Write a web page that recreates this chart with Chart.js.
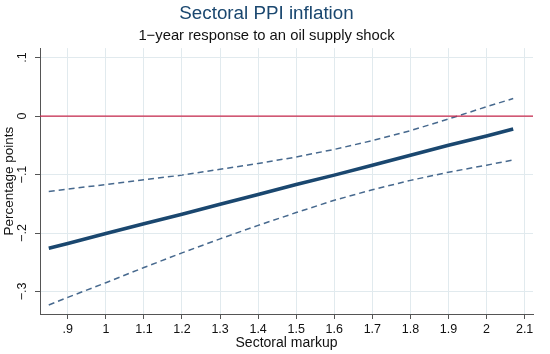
<!DOCTYPE html>
<html>
<head>
<meta charset="utf-8">
<script src="https://cdn.jsdelivr.net/npm/chart.js@4"></script>
<style>
  html, body { margin: 0; padding: 0; background: #fff; }
  #wrap { position: relative; width: 550px; height: 354px; }
</style>
</head>
<body>
<div id="wrap"><canvas id="chart"></canvas></div>
<script>
// values
const markup = [0.85, 0.9, 1.0, 1.1, 1.2, 1.3, 1.4, 1.5, 1.6, 1.7, 1.8, 1.9, 2.0, 2.07];
const fitted = [-0.226, -0.218, -0.201, -0.184, -0.168, -0.151, -0.134, -0.117, -0.101, -0.084, -0.067, -0.050, -0.034, -0.022];
const upperCI = [-0.129, -0.125, -0.117, -0.109, -0.101, -0.091, -0.081, -0.070, -0.057, -0.042, -0.025, -0.005, 0.016, 0.030];
const lowerCI = [-0.323, -0.310, -0.285, -0.259, -0.234, -0.210, -0.187, -0.165, -0.144, -0.126, -0.110, -0.096, -0.084, -0.075];

const xTicks = [0.9, 1.0, 1.1, 1.2, 1.3, 1.4, 1.5, 1.6, 1.7, 1.8, 1.9, 2.0, 2.1];
const yTicks = [-0.3, -0.2, -0.1, 0, 0.1];
const xMin = 0.827, xMax = 2.122;
const yMin = -0.3385, yMax = 0.1162;

const FONT = "'Liberation Sans', Arial, Helvetica, sans-serif";

// Stata style labels: no leading zero, real minus sign
function stataLabel(v) {
  let s = String(Math.round(v * 10) / 10);
  s = s.replace(/^(-?)0\./, "$1.");
  return s.replace("-", "\u2212");
}

const pts = (ys) => markup.map((x, i) => ({ x, y: ys[i] }));

new Chart(document.getElementById("chart").getContext("2d"), {
  type: "line",
  data: {
    datasets: [
      {
        label: "zero",
        data: [{ x: xMin, y: 0 }, { x: xMax, y: 0 }],
        borderColor: "#c9284d",
        borderWidth: 1.3,
        pointRadius: 0,
      },
      {
        label: "upper",
        data: pts(upperCI),
        borderColor: "#47698e",
        borderWidth: 1.5,
        borderDash: [6, 4],
        pointRadius: 0,
      },
      {
        label: "lower",
        data: pts(lowerCI),
        borderColor: "#47698e",
        borderWidth: 1.5,
        borderDash: [6, 4],
        pointRadius: 0,
      },
      {
        label: "fitted",
        data: pts(fitted),
        borderColor: "#1a476f",
        borderWidth: 3.6,
        pointRadius: 0,
      },
    ],
  },
  options: {
    responsive: true,
    maintainAspectRatio: false,
    animation: false,
    layout: { padding: { left: 0, right: 17, top: 0, bottom: 0 } },
    plugins: {
      legend: { display: false },
      tooltip: { enabled: false },
      title: {
        display: true,
        text: "Sectoral PPI inflation",
        color: "#1a476f",
        font: { family: FONT, size: 18.8, weight: "normal", lineHeight: 1.2 },
        padding: { top: 2.2, bottom: 0 },
      },
      subtitle: {
        display: true,
        text: "1\u2212year response to an oil supply shock",
        color: "#111",
        font: { family: FONT, size: 14.8, weight: "normal", lineHeight: 1.2 },
        padding: { top: 2, bottom: 3.6 },
      },
    },
    scales: {
      x: {
        type: "linear",
        min: xMin,
        max: xMax,
        afterBuildTicks: (scale) => { scale.ticks = xTicks.map((v) => ({ value: v })); },
        afterFit: (scale) => { scale.height = 40; },
        grid: { color: "#e1eaee", tickColor: "#555", tickLength: 5, lineWidth: 1 },
        border: { display: true, color: "#555", width: 1 },
        ticks: {
          color: "#111",
          padding: 3,
          maxRotation: 0,
          autoSkip: false,
          font: { family: FONT, size: 12.5 },
          callback: (v) => stataLabel(v),
        },
        title: {
          display: true,
          text: "Sectoral markup",
          color: "#111",
          font: { family: FONT, size: 14, lineHeight: 1.2 },
          padding: { top: 0, bottom: 2 },
        },
      },
      y: {
        type: "linear",
        min: yMin,
        max: yMax,
        afterBuildTicks: (scale) => { scale.ticks = yTicks.map((v) => ({ value: v })); },
        afterFit: (scale) => { scale.width = 40; },
        grid: { color: "#e1eaee", tickColor: "#555", tickLength: 5, lineWidth: 1 },
        border: { display: true, color: "#555", width: 1 },
        ticks: {
          color: "#111",
          padding: 4,
          minRotation: 90,
          maxRotation: 90,
          crossAlign: "center",
          autoSkip: false,
          font: { family: FONT, size: 12.5 },
          callback: (v) => stataLabel(v),
        },
        title: {
          display: true,
          text: "Percentage points",
          color: "#111",
          font: { family: FONT, size: 13.5, lineHeight: 1.2 },
          padding: { top: 1, bottom: 0 },
        },
      },
    },
  },
});
</script>
</body>
</html>
